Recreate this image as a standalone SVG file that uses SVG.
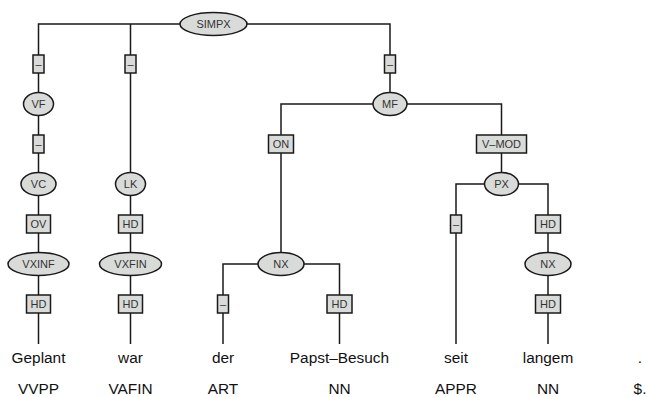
<svg xmlns="http://www.w3.org/2000/svg" width="648" height="397" viewBox="0 0 648 397">
<style>
.c{fill:none;stroke:#1a1a1a;stroke-width:1.5}
.e{fill:#d9dbd9;stroke:#1a1a1a;stroke-width:1.5}
.b{fill:#d9dbd9;stroke:#1a1a1a;stroke-width:1.5}
.l{font-family:"Liberation Sans",Arial,sans-serif;font-size:11px;fill:#333;text-anchor:middle}
.w{font-family:"Liberation Sans",Arial,sans-serif;font-size:15.4px;fill:#111;text-anchor:middle}
</style>
<rect width="648" height="397" fill="#fff"/>
<g id="connectors">
<path class="c" d="M38.5,344V24H390V104"/>
<path class="c" d="M130.5,24V344"/>
<path class="c" d="M281,264V104H501.5V184"/>
<path class="c" d="M456,344V184H548V344"/>
<path class="c" d="M223,344V264H339.5V344"/>
</g>
<g id="SIMPX"><ellipse class="e" cx="213.5" cy="24" rx="33.5" ry="11.5"/><text class="l" x="213.5" y="28">SIMPX</text></g>
<g id="e1"><rect class="b" x="33" y="55" width="11" height="18"/><text class="l" x="38.5" y="68">–</text></g>
<g id="VF"><ellipse class="e" cx="38.5" cy="104" rx="15" ry="11.5"/><text class="l" x="38.5" y="108">VF</text></g>
<g id="e2"><rect class="b" x="33" y="135" width="11" height="18"/><text class="l" x="38.5" y="148">–</text></g>
<g id="VC"><ellipse class="e" cx="38.5" cy="184" rx="17.5" ry="11.5"/><text class="l" x="38.5" y="188">VC</text></g>
<g id="OV"><rect class="b" x="26.5" y="215" width="24" height="18"/><text class="l" x="38.5" y="228">OV</text></g>
<g id="VXINF"><ellipse class="e" cx="38.5" cy="264" rx="30.5" ry="11.5"/><text class="l" x="38.5" y="268">VXINF</text></g>
<g id="HD1"><rect class="b" x="26.5" y="295" width="24" height="18"/><text class="l" x="38.5" y="308">HD</text></g>
<g id="e3"><rect class="b" x="125" y="55" width="11" height="18"/><text class="l" x="130.5" y="68">–</text></g>
<g id="LK"><ellipse class="e" cx="130.5" cy="184" rx="15" ry="11.5"/><text class="l" x="130.5" y="188">LK</text></g>
<g id="HD2"><rect class="b" x="118.5" y="215" width="24" height="18"/><text class="l" x="130.5" y="228">HD</text></g>
<g id="VXFIN"><ellipse class="e" cx="130.5" cy="264" rx="31" ry="11.5"/><text class="l" x="130.5" y="268">VXFIN</text></g>
<g id="HD3"><rect class="b" x="118.5" y="295" width="24" height="18"/><text class="l" x="130.5" y="308">HD</text></g>
<g id="e4"><rect class="b" x="384.5" y="55" width="11" height="18"/><text class="l" x="390" y="68">–</text></g>
<g id="MF"><ellipse class="e" cx="390" cy="104" rx="17" ry="11.5"/><text class="l" x="390" y="108">MF</text></g>
<g id="ON"><rect class="b" x="268.5" y="135" width="25" height="18"/><text class="l" x="281" y="148">ON</text></g>
<g id="NX1"><ellipse class="e" cx="281" cy="264" rx="23" ry="11.5"/><text class="l" x="281" y="268">NX</text></g>
<g id="e5"><rect class="b" x="217.5" y="295" width="11" height="18"/><text class="l" x="223" y="308">–</text></g>
<g id="HD4"><rect class="b" x="327" y="295" width="25" height="18"/><text class="l" x="339.5" y="308">HD</text></g>
<g id="VMOD"><rect class="b" x="476.5" y="135" width="50" height="18"/><text class="l" x="501.5" y="148">V–MOD</text></g>
<g id="PX"><ellipse class="e" cx="501.5" cy="184" rx="17" ry="11.5"/><text class="l" x="501.5" y="188">PX</text></g>
<g id="e6"><rect class="b" x="450.5" y="215" width="11" height="18"/><text class="l" x="456" y="228">–</text></g>
<g id="HD5"><rect class="b" x="535.5" y="215" width="25" height="18"/><text class="l" x="548" y="228">HD</text></g>
<g id="NX2"><ellipse class="e" cx="548" cy="264" rx="23" ry="11.5"/><text class="l" x="548" y="268">NX</text></g>
<g id="HD6"><rect class="b" x="535.5" y="295" width="25" height="18"/><text class="l" x="548" y="308">HD</text></g>
<g id="words">
<text class="w" x="38.5" y="363">Geplant</text>
<text class="w" x="130.5" y="363">war</text>
<text class="w" x="223" y="363">der</text>
<text class="w" x="339.5" y="363">Papst–Besuch</text>
<text class="w" x="456" y="363">seit</text>
<text class="w" x="548" y="363">langem</text>
<text class="w" x="640" y="363">.</text>
<text class="w" x="38.5" y="394">VVPP</text>
<text class="w" x="130.5" y="394">VAFIN</text>
<text class="w" x="223" y="394">ART</text>
<text class="w" x="339.5" y="394">NN</text>
<text class="w" x="456" y="394">APPR</text>
<text class="w" x="548" y="394">NN</text>
<text class="w" x="640" y="394">$.</text>
</g>
</svg>
